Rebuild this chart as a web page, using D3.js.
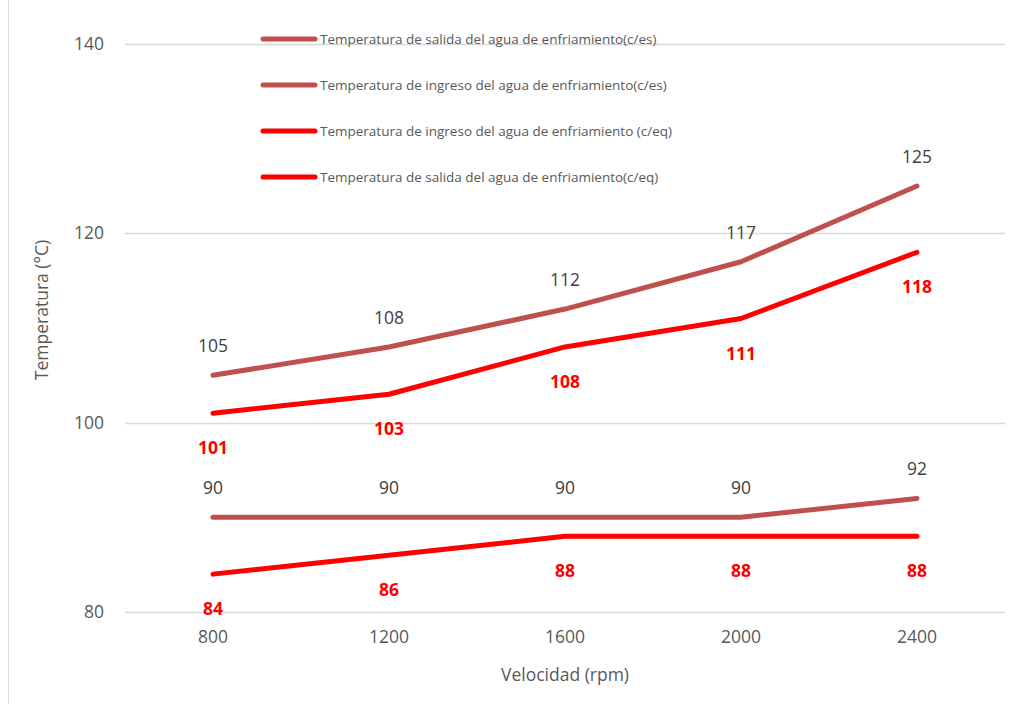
<!DOCTYPE html>
<html>
<head>
<meta charset="utf-8">
<script src="https://cdn.jsdelivr.net/npm/d3@7"></script>
<style>
  html, body { margin: 0; padding: 0; background: #fff; }
  svg { display: block; font-family: "Open Sans", Lato, sans-serif; }
</style>
</head>
<body>
<svg id="chart" width="1013" height="704"></svg>
<script>
// Velocidad del motor (rpm)
const velocidades = ["800", "1200", "1600", "2000", "2400"];

// Temperaturas del agua de enfriamiento (°C)
const salidaCes   = [105, 108, 112, 117, 125];
const ingresoCes  = [90, 90, 90, 90, 92];
const ingresoCeq  = [84, 86, 88, 88, 88];
const salidaCeq   = [101, 103, 108, 111, 118];

const yTicks = [80, 100, 120, 140];

const series = [
  { name: "Temperatura de salida del agua de enfriamiento(c/es)",   values: salidaCes,  color: "#C0504D", label: "above" },
  { name: "Temperatura de ingreso del agua de enfriamiento(c/es)",  values: ingresoCes, color: "#C0504D", label: "above" },
  { name: "Temperatura de ingreso del agua de enfriamiento (c/eq)", values: ingresoCeq, color: "#FF0000", label: "below" },
  { name: "Temperatura de salida del agua de enfriamiento(c/eq)",   values: salidaCeq,  color: "#FF0000", label: "below" }
];

const svg = d3.select("#chart");
const plot = { left: 125, right: 1005, top: 44, bottom: 612 };
const FONT = "'Open Sans', Lato, sans-serif";

const x = d3.scaleBand().domain(velocidades).range([plot.left, plot.right]);
const y = d3.scaleLinear().domain([80, 140]).range([plot.bottom, plot.top]);
const cx = d => x(d) + x.bandwidth() / 2;

// chart frame edge
svg.append("line")
  .attr("x1", 8.5).attr("x2", 8.5).attr("y1", 0).attr("y2", 704)
  .attr("stroke", "#d9d9d9").attr("stroke-width", 1);

// gridlines
svg.append("g").selectAll("line").data(yTicks).join("line")
  .attr("x1", plot.left).attr("x2", plot.right)
  .attr("y1", d => Math.round(y(d)) + 0.5).attr("y2", d => Math.round(y(d)) + 0.5)
  .attr("stroke", "#d9d9d9").attr("stroke-width", 1.5);

// y axis labels
const yAxis = d3.axisLeft(y).tickValues(yTicks).tickSize(0).tickPadding(21);
svg.append("g").attr("transform", `translate(${plot.left},0)`).call(yAxis)
  .call(g => g.select(".domain").remove())
  .call(g => g.selectAll("text").attr("font-size", 17.5).attr("fill", "#595959")
    .attr("font-family", FONT));

// x axis labels
const xAxis = d3.axisBottom(x).tickSize(0).tickPadding(19);
svg.append("g").attr("transform", `translate(0,${plot.bottom})`).call(xAxis)
  .call(g => g.select(".domain").remove())
  .call(g => g.selectAll("text").attr("font-size", 17.5).attr("fill", "#595959")
    .attr("font-family", FONT));

// axis titles
svg.append("text")
  .attr("x", (plot.left + plot.right) / 2).attr("y", 681)
  .attr("text-anchor", "middle").attr("font-size", 17.5).attr("fill", "#595959")
  .text("Velocidad (rpm)");
svg.append("text")
  .attr("transform", `translate(48,${(plot.top + plot.bottom) / 2 - 18}) rotate(-90)`)
  .attr("text-anchor", "middle").attr("font-size", 17.5).attr("fill", "#595959")
  .text("Temperatura (°C)");

// lines
const line = d3.line().x((d, i) => cx(velocidades[i])).y(d => y(d));
svg.append("g").selectAll("path").data(series).join("path")
  .attr("d", s => line(s.values))
  .attr("fill", "none")
  .attr("stroke", s => s.color)
  .attr("stroke-width", 5)
  .attr("stroke-linecap", "round")
  .attr("stroke-linejoin", "round");

// data labels
series.forEach(s => {
  svg.append("g").selectAll("text").data(s.values).join("text")
    .attr("x", (d, i) => cx(velocidades[i]))
    .attr("y", d => y(d) + (s.label === "above" ? -23 : 41))
    .attr("text-anchor", "middle")
    .attr("font-size", 17.5)
    .attr("font-weight", s.label === "above" ? "normal" : "bold")
    .attr("fill", s.label === "above" ? "#404040" : "#FF0000")
    .text(d => d);
});

// legend
const legend = svg.append("g").selectAll("g").data(series).join("g")
  .attr("transform", (d, i) => `translate(263,${39 + i * 46})`);
legend.append("line")
  .attr("x1", 0).attr("x2", 52).attr("y1", 0).attr("y2", 0)
  .attr("stroke", d => d.color).attr("stroke-width", 5).attr("stroke-linecap", "round");
legend.append("text")
  .attr("x", 57).attr("y", 5)
  .attr("font-size", 13.5).attr("fill", "#595959")
  .text(d => d.name);
</script>
</body>
</html>
